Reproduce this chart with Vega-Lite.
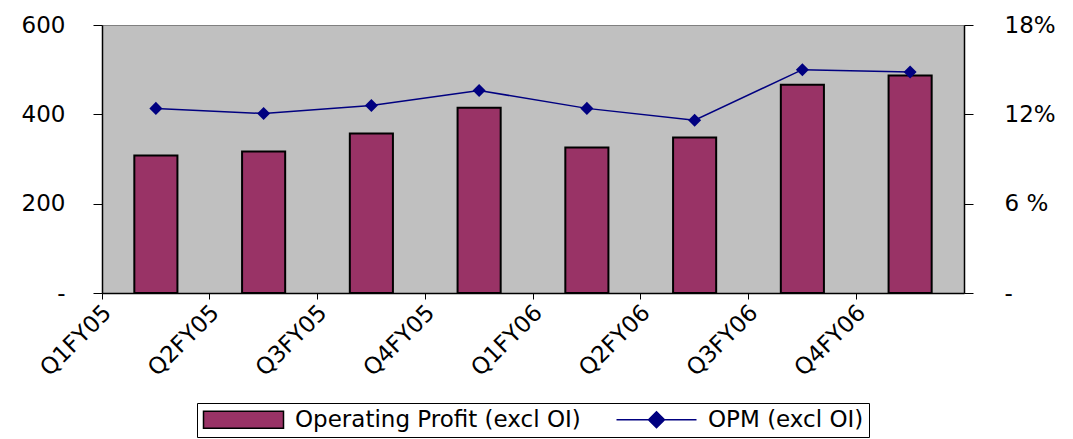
{
  "$schema": "https://vega.github.io/schema/vega-lite/v6.json",
  "width": 1073,
  "height": 439,
  "autosize": {"type": "fit", "contains": "padding"},
  "padding": {"left": 21, "right": 17, "top": 14, "bottom": 1},
  "background": "white",
  "config": {
    "view": {"fill": "#c0c0c0", "stroke": "#808080", "strokeWidth": 1},
    "font": "DejaVu Sans",
    "legend": {"layout": {"bottom": {"anchor": "middle"}}}
  },
  "data": {
    "values": [
      {"quarter": "Q1FY05", "op": 308, "opm": 12.4},
      {"quarter": "Q2FY05", "op": 317, "opm": 12.05},
      {"quarter": "Q3FY05", "op": 357, "opm": 12.6},
      {"quarter": "Q4FY05", "op": 415, "opm": 13.6},
      {"quarter": "Q1FY06", "op": 326, "opm": 12.4},
      {"quarter": "Q2FY06", "op": 348, "opm": 11.6},
      {"quarter": "Q3FY06", "op": 466, "opm": 15.0},
      {"quarter": "Q4FY06", "op": 487, "opm": 14.85}
    ]
  },
  "encoding": {
    "x": {
      "field": "quarter",
      "type": "nominal",
      "sort": null,
      "scale": {"paddingInner": 0, "paddingOuter": 0},
      "axis": {
        "title": null,
        "bandPosition": 0,
        "labelAngle": -45,
        "labelAlign": "right",
        "labelBaseline": "top",
        "labelOffset": -56,
        "labelFont": "DejaVu Sans",
        "labelFontSize": 23,
        "labelColor": "black",
        "labelPadding": 2,
        "labelOverlap": false,
        "domainColor": "black",
        "domainWidth": 1.5,
        "tickColor": "black",
        "tickSize": 6,
        "grid": false
      }
    }
  },
  "layer": [
    {
      "mark": {"type": "bar", "width": {"band": 0.4}, "stroke": "black", "strokeWidth": 2},
      "encoding": {
        "y": {
          "field": "op",
          "type": "quantitative",
          "scale": {"domain": [0, 600], "nice": false},
          "axis": {
            "title": null,
            "values": [0, 200, 400, 600],
            "labelExpr": "datum.value == 0 ? '-' : datum.label",
            "labelFont": "DejaVu Sans",
            "labelFontSize": 23,
            "labelColor": "black",
            "labelPadding": 28,
            "tickSize": 9,
            "tickColor": "black",
            "domainColor": "black",
            "domainWidth": 1.5,
            "grid": false
          }
        },
        "color": {
          "datum": "Operating Profit (excl OI)",
          "scale": {
            "domain": ["Operating Profit (excl OI)", "OPM (excl OI)"],
            "range": ["#993366", "#000080"]
          },
          "legend": {
            "title": null,
            "orient": "bottom",
            "direction": "horizontal",
            "offset": 22,
            "strokeColor": "black",
            "fillColor": "white",
            "padding": 5,
            "labelFont": "DejaVu Sans",
            "labelFontSize": 23,
            "labelColor": "black",
            "labelLimit": 0,
            "labelOffset": 70,
            "columnPadding": 32,
            "symbolSize": 400,
            "symbolStrokeWidth": 1.5,
            "symbolType": {"expr": "datum.value == 'OPM (excl OI)' ? 'M-1,0H7M2.2,0L3,-0.8L3.8,0L3,0.8Z' : 'M-1,-0.85H7V0.85H-1Z'"},
            "symbolStrokeColor": {"expr": "datum.value == 'OPM (excl OI)' ? '#000080' : 'black'"}
          }
        }
      }
    },
    {
      "mark": {
        "type": "line",
        "color": "#000080",
        "strokeWidth": 1.5,
        "point": {"shape": "diamond", "size": 170, "filled": true, "color": "#000080"}
      },
      "encoding": {
        "y": {
          "field": "opm",
          "type": "quantitative",
          "scale": {"domain": [0, 18], "nice": false},
          "axis": {
            "title": null,
            "orient": "right",
            "values": [0, 6, 12, 18],
            "labelExpr": "datum.value == 0 ? '-' : datum.value == 6 ? '6 %' : datum.value + '%'",
            "labelFont": "DejaVu Sans",
            "labelFontSize": 23,
            "labelColor": "black",
            "labelPadding": 31,
            "tickSize": 9,
            "tickColor": "black",
            "domainColor": "black",
            "domainWidth": 1.5,
            "grid": false
          }
        }
      }
    }
  ],
  "resolve": {"scale": {"y": "independent"}}
}
